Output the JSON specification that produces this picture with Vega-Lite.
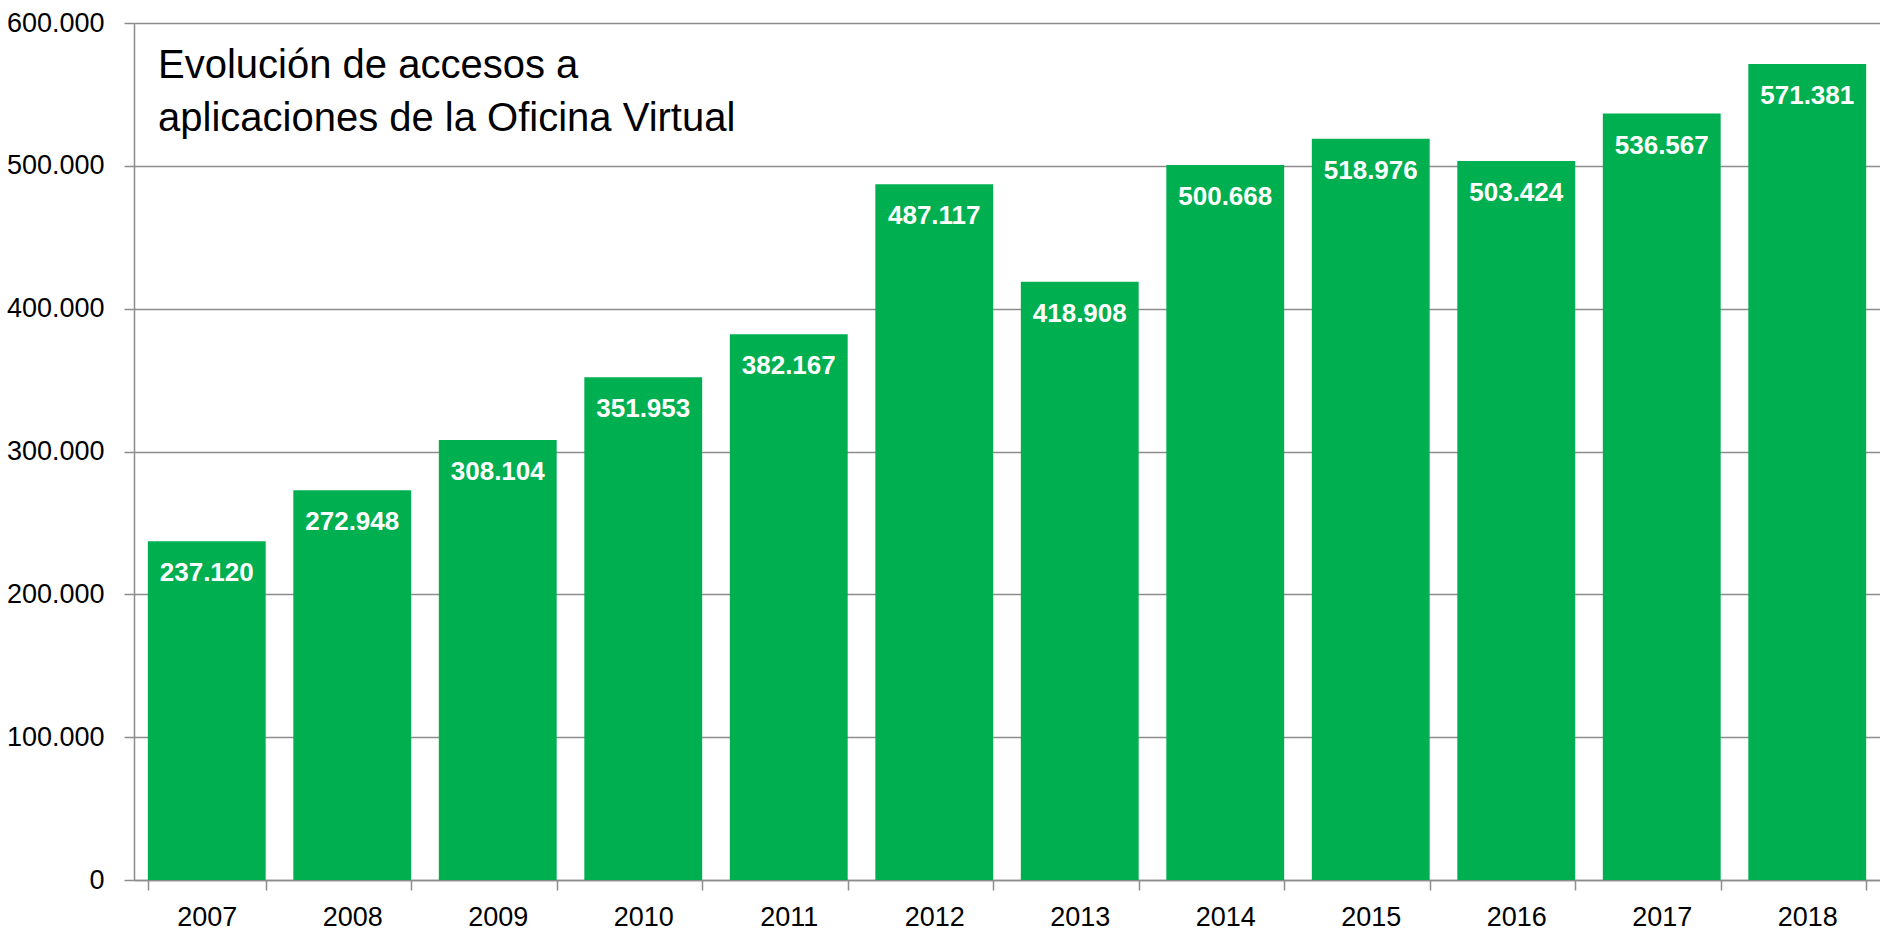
{
  "$schema": "https://vega.github.io/schema/vega-lite/v6.json",
  "width": 1746,
  "height": 857,
  "autosize": {"type": "none"},
  "padding": {"left": 134, "top": 23, "right": 0, "bottom": 54},
  "background": "white",
  "config": {
    "locale": {"number": {"decimal": ",", "thousands": ".", "grouping": [3], "currency": ["", " €"]}},
    "view": {"stroke": null},
    "font": "Liberation Sans"
  },
  "title": {
    "text": ["Evolución de accesos a", "aplicaciones de la Oficina Virtual"],
    "anchor": "start",
    "frame": "group",
    "orient": "none",
    "offset": 0,
    "baseline": "alphabetic",
    "dx": 24,
    "dy": 55,
    "lineHeight": 53,
    "font": "Liberation Sans",
    "fontSize": 40,
    "fontWeight": "normal",
    "color": "#000000"
  },
  "data": {
    "values": [
      {"year": "2007", "accesos": 237120},
      {"year": "2008", "accesos": 272948},
      {"year": "2009", "accesos": 308104},
      {"year": "2010", "accesos": 351953},
      {"year": "2011", "accesos": 382167},
      {"year": "2012", "accesos": 487117},
      {"year": "2013", "accesos": 418908},
      {"year": "2014", "accesos": 500668},
      {"year": "2015", "accesos": 518976},
      {"year": "2016", "accesos": 503424},
      {"year": "2017", "accesos": 536567},
      {"year": "2018", "accesos": 571381}
    ]
  },
  "encoding": {
    "x": {
      "field": "year",
      "type": "ordinal",
      "title": null,
      "scale": {"paddingInner": 0.19, "paddingOuter": 0.095},
      "axis": {
        "labelAngle": 0,
        "labelFont": "Liberation Sans",
        "labelFontSize": 27,
        "labelColor": "#000000",
        "labelPadding": 14,
        "tickBand": "extent",
        "tickSize": 10,
        "tickColor": "#8c8c8c",
        "tickWidth": 1.5,
        "domainColor": "#8c8c8c",
        "domainWidth": 1.5,
        "grid": false
      }
    },
    "y": {
      "field": "accesos",
      "type": "quantitative",
      "title": null,
      "scale": {"domain": [0, 600000], "nice": false},
      "axis": {
        "values": [0, 100000, 200000, 300000, 400000, 500000, 600000],
        "format": ",d",
        "labelFont": "Liberation Sans",
        "labelFontSize": 27,
        "labelColor": "#000000",
        "labelPadding": 20,
        "tickSize": 10,
        "tickColor": "#8c8c8c",
        "tickWidth": 1.5,
        "domainColor": "#8c8c8c",
        "domainWidth": 1.5,
        "grid": true,
        "gridColor": "#8c8c8c",
        "gridWidth": 1.5
      }
    }
  },
  "layer": [
    {
      "mark": {"type": "bar", "color": "#00b050"}
    },
    {
      "mark": {
        "type": "text",
        "color": "white",
        "font": "Liberation Sans",
        "fontWeight": "bold",
        "fontSize": 26,
        "baseline": "alphabetic",
        "align": "center",
        "dy": 40
      },
      "encoding": {
        "text": {"field": "accesos", "type": "quantitative", "format": ",d"}
      }
    }
  ]
}
